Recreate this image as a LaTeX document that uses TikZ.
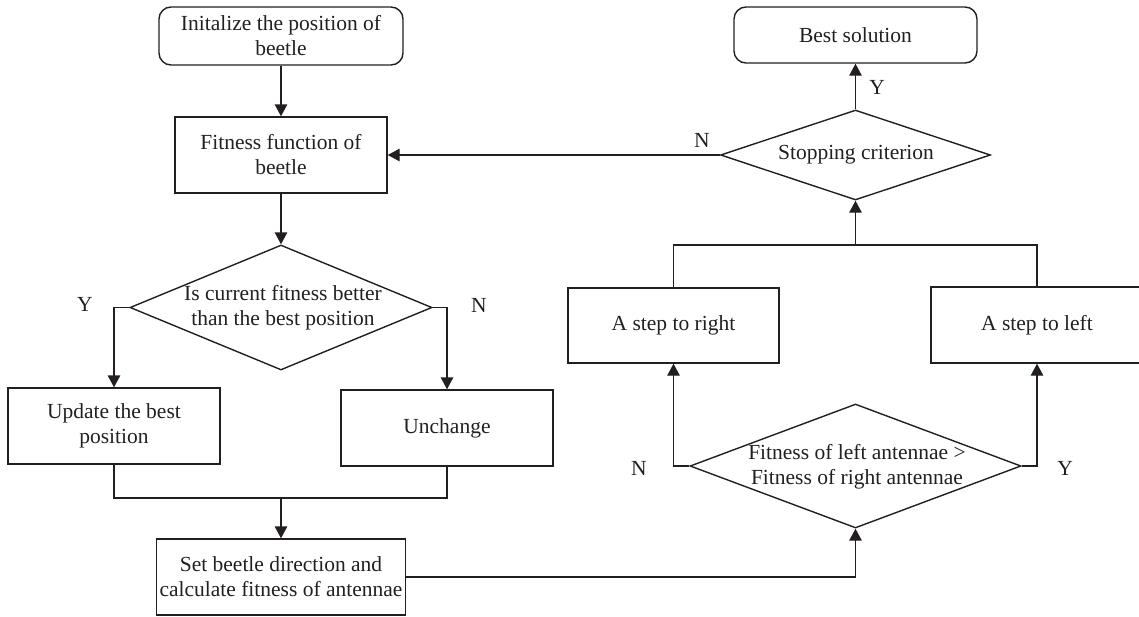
\documentclass[tikz,border=0pt]{standalone}
\usepackage{fontspec}
\setmainfont{Liberation Serif}
\usetikzlibrary{arrows.meta,shapes.geometric}
\definecolor{ink}{HTML}{231F20}
\begin{document}
\begin{tikzpicture}[x=1pt,y=-1pt,
  txt/.style={text=ink, font=\fontsize{21.5}{25}\selectfont, align=center, inner sep=0pt},
  box/.style={txt, draw=ink, line width=1.4pt, rectangle},
  rbox/.style={box, rounded corners=12pt},
  dia/.style={draw=ink, line width=1.4pt, diamond, inner sep=0pt},
  conn/.style={draw=ink, line width=1.4pt},
  arr/.style={conn, -{Triangle[length=12pt,width=12.5pt]}}]
\useasboundingbox (0,0) rectangle (1139,616);
% left column
\node[rbox, minimum width=244pt, minimum height=58pt] (init) at (281,36) {Initalize the position of\\beetle};
\node[box, minimum width=212pt, minimum height=76pt] (fit) at (281,155) {Fitness function of\\beetle};
\node[dia, minimum width=302pt, minimum height=125pt] (d1) at (281,307.5) {};
\node[txt] (d1t) at (283,308) {Is current fitness better\\than the best position};
\node[box, minimum width=212pt, minimum height=76pt] (upd) at (114,426) {Update the best\\position};
\node[box, minimum width=212pt, minimum height=76pt] (unc) at (447,428) {Unchange};
\node[box, minimum width=249pt, minimum height=76pt] (set) at (281,577) {Set beetle direction and\\calculate fitness of antennae};
% right column
\node[rbox, minimum width=243pt, minimum height=56pt] (best) at (855.5,35) {Best solution};
\node[dia, minimum width=270pt, minimum height=90pt] (stop) at (855.5,155) {};
\node[txt] (stopt) at (856,155) {Stopping criterion};
\node[box, minimum width=211pt, minimum height=75pt] (sr) at (673.5,325.5) {A step to right};
\node[box, minimum width=212pt, minimum height=76pt] (sl) at (1037,325) {A step to left};
\node[dia, minimum width=331pt, minimum height=124pt] (d2) at (855.5,466) {};
\node[txt] (d2t) at (857,467) {Fitness of left antennae >\\Fitness of right antennae};
% labels
\node[txt] (y1) at (85,304) {Y};
\node[txt] (n1) at (479,305) {N};
\node[txt] (n2) at (639,468) {N};
\node[txt] (y2) at (1065,468) {Y};
\node[txt] (y3) at (877,87) {Y};
\node[txt] (n3) at (702,140) {N};
% coordinates
\coordinate (m) at (281,498);
\coordinate (j) at (855.5,245);
% connectors
\draw[arr] (init.south) -- (fit.north);
\draw[arr] (fit.south) -- (d1.north);
\draw[arr] (d1.west) -| (upd.north);
\draw[arr] (d1.east) -| (unc.north);
\draw[conn] (upd.south) |- (m) -| (unc.south);
\draw[arr] (m) -- (set.north);
\draw[arr] (set.east) -| (d2.south);
\draw[arr] (d2.west) -| (sr.south);
\draw[arr] (d2.east) -| (sl.south);
\draw[conn] (sr.north) |- (j) -| (sl.north);
\draw[arr] (j) -- (stop.south);
\draw[arr] (stop.north) -- (best.south);
\draw[arr] (stop.west) -- (fit.east);
\end{tikzpicture}
\end{document}
